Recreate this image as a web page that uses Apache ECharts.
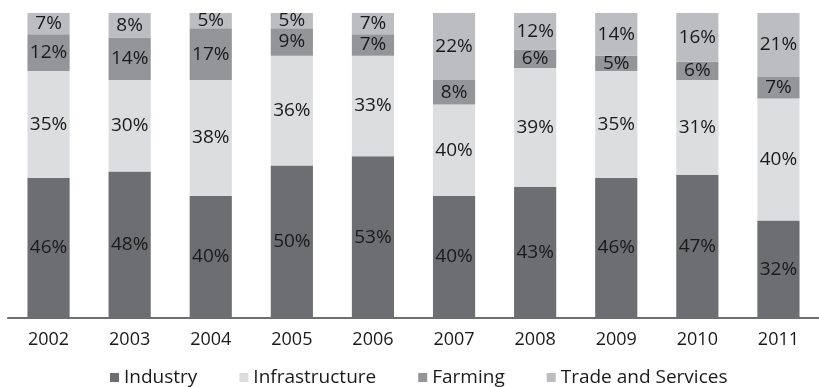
<!DOCTYPE html>
<html>
<head>
<meta charset="utf-8">
<script src="https://cdn.jsdelivr.net/npm/echarts@6/dist/echarts.min.js"></script>
<style>html,body{margin:0;padding:0;background:#fff}#c{width:819px;height:387px}</style>
</head>
<body>
<div id="c"></div>
<script>
var years = ['2002','2003','2004','2005','2006','2007','2008','2009','2010','2011'];
var industry = [46, 48, 40, 50, 53, 40, 43, 46, 47, 32];
var infrastructure = [35, 30, 38, 36, 33, 30, 39, 35, 31, 40];
var infrastructureLabels = ['35%','30%','38%','36%','33%','40%','39%','35%','31%','40%'];
var farming = [12, 14, 17, 9, 7, 8, 6, 5, 6, 7];
var trade = [7, 8, 5, 5, 7, 22, 12, 14, 16, 21];

var FONT = 'Open Sans';
function lab(labels) {
  return {
    show: true, position: 'inside', color: '#1a1a1a', fontFamily: FONT, fontSize: 19,
    formatter: function (p) { return labels ? labels[p.dataIndex] : p.value + '%'; }
  };
}
function s(name, data, color, labels) {
  return { name: name, type: 'bar', stack: 'a', data: data, barWidth: '52%',
    itemStyle: { color: color }, label: lab(labels), emphasis: { disabled: true } };
}
var chart = echarts.init(document.getElementById('c'));
chart.setOption({
  animation: false,
  grid: { left: 8, right: 0, top: 13, bottom: 69, containLabel: false },
  xAxis: { type: 'category', data: years,
    axisLine: { lineStyle: { color: '#6d6e71', width: 2 } },
    axisTick: { show: false },
    axisLabel: { color: '#1a1a1a', fontFamily: FONT, fontSize: 18, margin: 13 } },
  yAxis: { type: 'value', min: 0, max: 100, show: false, splitLine: { show: false } },
  legend: { left: 105, bottom: -5, icon: 'rect', itemWidth: 9, itemHeight: 9, itemGap: 42,
    textStyle: { color: '#1a1a1a', fontFamily: FONT, fontSize: 19 },
    data: ['Industry', 'Infrastructure', 'Farming', 'Trade and Services'] },
  series: [
    s('Industry', industry, '#6d6e71'),
    s('Infrastructure', infrastructure, '#dcdddf', infrastructureLabels),
    s('Farming', farming, '#939598'),
    s('Trade and Services', trade, '#bcbdc0')
  ]
});
</script>
</body>
</html>
